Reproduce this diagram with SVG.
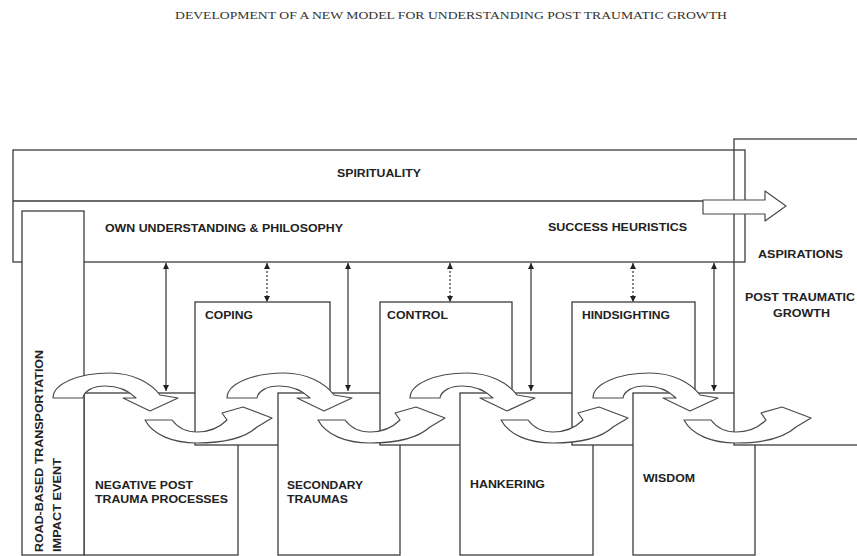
<svg xmlns="http://www.w3.org/2000/svg" width="857" height="556" viewBox="0 0 857 556">
<style>
.box{fill:#fff;stroke:#3c3c3c;stroke-width:1.3}
.ol{fill:none;stroke:#3c3c3c;stroke-width:1.3}
.arc{fill:#fff;stroke:#4a4a4a;stroke-width:1.2;stroke-linejoin:round}
.lbl{font-family:"Liberation Sans",Arial,sans-serif;font-weight:bold;font-size:11.5px;fill:#222}
.ttl{font-family:"Liberation Serif","Times New Roman",serif;font-size:10px;fill:#333}
.dbl{stroke:#333;stroke-width:1.2;marker-start:url(#ah);marker-end:url(#ah)}
.dash{stroke-dasharray:2 2}
</style>
<defs>
<marker id="ah" markerWidth="6" markerHeight="6" refX="6" refY="3" orient="auto-start-reverse" markerUnits="userSpaceOnUse"><path d="M0,0 L6,3 L0,6 z" fill="#222"/></marker>
<path id="up" class="arc" d="M0,0 C0,-14 25,-25 57,-25 C80,-25 98,-15 107,-3 L125,0 L97,13 L70,0 L83,0 C75,-8 65,-12 52,-12 C40,-12 31,-7 30,0 Z"/>
<path id="low" class="arc" d="M0,0 L27,0 C33,8 42,12 52,12 C64,12 75,7 82,0 L77,-7 L98,-13 L127,-2 L112,7 C100,18 78,23 52,23 C28,23 8,15 0,0 Z"/>
</defs>
<rect width="857" height="556" fill="#fff"/>
<text class="ttl" x="175" y="19" textLength="552" lengthAdjust="spacingAndGlyphs">DEVELOPMENT OF A NEW MODEL FOR UNDERSTANDING POST TRAUMATIC GROWTH</text>

<g id="negative"><rect class="box" x="84" y="393" width="154" height="162"/>
<text class="lbl" x="95" y="489" textLength="98" lengthAdjust="spacingAndGlyphs">NEGATIVE POST</text>
<text class="lbl" x="95" y="503" textLength="133" lengthAdjust="spacingAndGlyphs">TRAUMA PROCESSES</text></g>
<g id="coping"><rect class="box" x="195" y="302" width="135" height="143"/>
<text class="lbl" x="205" y="319" textLength="48" lengthAdjust="spacingAndGlyphs">COPING</text></g>
<g id="secondary"><rect class="box" x="278" y="393" width="122" height="162"/>
<text class="lbl" x="287" y="489" textLength="76" lengthAdjust="spacingAndGlyphs">SECONDARY</text>
<text class="lbl" x="287" y="503" textLength="61" lengthAdjust="spacingAndGlyphs">TRAUMAS</text></g>
<g id="control"><rect class="box" x="380" y="302" width="132" height="143"/>
<text class="lbl" x="387" y="319" textLength="61" lengthAdjust="spacingAndGlyphs">CONTROL</text></g>
<g id="hankering"><rect class="box" x="460" y="393" width="133" height="162"/>
<text class="lbl" x="470" y="488" textLength="75" lengthAdjust="spacingAndGlyphs">HANKERING</text></g>
<g id="hindsighting"><rect class="box" x="572" y="302" width="123" height="143"/>
<text class="lbl" x="582" y="319" textLength="88" lengthAdjust="spacingAndGlyphs">HINDSIGHTING</text></g>
<g id="wisdom"><rect class="box" x="633" y="393" width="122" height="162"/>
<text class="lbl" x="643" y="482" textLength="52" lengthAdjust="spacingAndGlyphs">WISDOM</text></g>
<g id="ptg"><rect class="box" x="734" y="139" width="140" height="306"/>
<text class="lbl" x="758" y="258" textLength="85" lengthAdjust="spacingAndGlyphs">ASPIRATIONS</text>
<text class="lbl" x="745" y="301" textLength="110" lengthAdjust="spacingAndGlyphs">POST TRAUMATIC</text>
<text class="lbl" x="773" y="317" textLength="57" lengthAdjust="spacingAndGlyphs">GROWTH</text></g>

<g id="spirituality"><rect class="ol" x="13" y="150" width="732" height="112"/>
<line class="ol" x1="13" y1="201" x2="703" y2="201"/>
<text class="lbl" x="337" y="177" textLength="84" lengthAdjust="spacingAndGlyphs">SPIRITUALITY</text>
<text class="lbl" x="105" y="232" textLength="238" lengthAdjust="spacingAndGlyphs">OWN UNDERSTANDING &amp; PHILOSOPHY</text>
<text class="lbl" x="548" y="231" textLength="139" lengthAdjust="spacingAndGlyphs">SUCCESS HEURISTICS</text></g>

<g id="road"><rect class="box" x="22" y="211" width="62" height="344"/>
<text class="lbl" transform="translate(43,552) rotate(-90)" textLength="202" lengthAdjust="spacingAndGlyphs">ROAD-BASED TRANSPORTATION</text>
<text class="lbl" transform="translate(61,552) rotate(-90)" textLength="94" lengthAdjust="spacingAndGlyphs">IMPACT EVENT</text></g>

<g id="connectors">
<use href="#up" x="53" y="398"/>
<use href="#up" x="227" y="398"/>
<use href="#up" x="410" y="398"/>
<use href="#up" x="593" y="398"/>
<use href="#low" x="145" y="420"/>
<use href="#low" x="318" y="420"/>
<use href="#low" x="501" y="420"/>
<use href="#low" x="684" y="420"/>
<line class="dbl" x1="166" y1="263" x2="166" y2="391"/>
<line class="dbl" x1="348" y1="263" x2="348" y2="391"/>
<line class="dbl" x1="531" y1="263" x2="531" y2="391"/>
<line class="dbl" x1="714" y1="263" x2="714" y2="391"/>
<line class="dbl dash" x1="267" y1="263" x2="267" y2="302"/>
<line class="dbl dash" x1="450" y1="263" x2="450" y2="302"/>
<line class="dbl dash" x1="633" y1="263" x2="633" y2="302"/>
<polygon class="arc" points="703,200 765,200 765,191 786,206 765,221 765,214 703,214"/>
</g>
</svg>
